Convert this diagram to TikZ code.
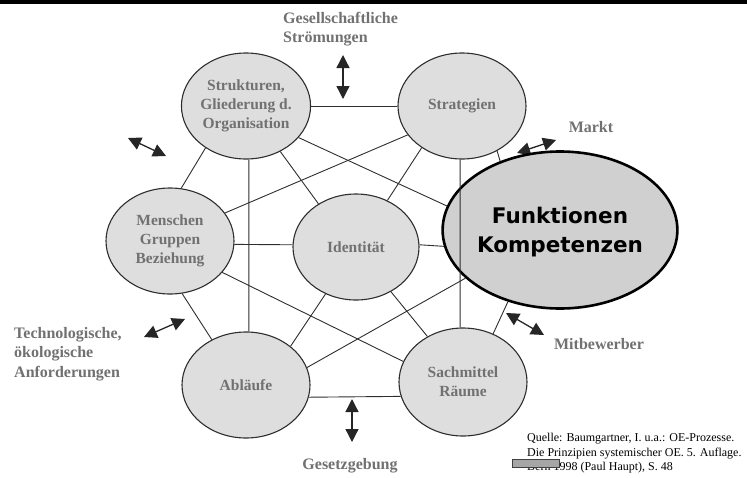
\documentclass[tikz,border=0pt]{standalone}
\usepackage{fontspec}
\setmainfont{Liberation Serif}
\newfontfamily\kompfont{DejaVu Sans}
\usetikzlibrary{shapes.geometric,arrows.meta}
\definecolor{kreisgrau}{HTML}{DEDEDE}
\definecolor{kerngrau}{HTML}{D0D0D0}
\definecolor{schriftgrau}{HTML}{717171}
\definecolor{liniengrau}{HTML}{2E2E2E}

\begin{document}
\begin{tikzpicture}[x=1pt, y=-1pt,
  feld/.style={ellipse, draw=liniengrau, fill=kreisgrau, line width=1.1pt, inner sep=0pt,
    text=schriftgrau, align=center, font=\fontsize{15.5}{19}\selectfont\bfseries},
  kern/.style={ellipse, draw=black, fill=kerngrau, line width=2.6pt, inner sep=0pt,
    text depth=0pt, align=center, font=\kompfont\fontsize{21.5}{29}\selectfont\bfseries},
  umwelt/.style={text=schriftgrau, align=left, inner sep=0pt,
    font=\fontsize{16}{19.5}\selectfont\bfseries},
  quelle/.style={align=left, inner sep=0pt, font=\fontsize{12}{14.5}\selectfont},
  verbindung/.style={draw=liniengrau, line width=0.9pt},
  pfeil/.style={{Triangle[length=13pt,width=13pt]}-{Triangle[length=13pt,width=13pt]},
    line width=1.3pt, draw=black!85}]
  \useasboundingbox (0,0) rectangle (747,477);
  \fill[black] (0,0) rectangle (747,4);   % dark band at the top edge

  % ends of the environment arrows
  \coordinate (ges1) at (343,55);   \coordinate (ges2) at (343,99);
  \coordinate (lo1) at (128,138);   \coordinate (lo2) at (166,156);
  \coordinate (markt1) at (517,153); \coordinate (markt2) at (556,140);
  \coordinate (lu1) at (144,337);   \coordinate (lu2) at (185,319);
  \coordinate (mitb1) at (506,313); \coordinate (mitb2) at (544,335);
  \coordinate (gesetz1) at (352,399); \coordinate (gesetz2) at (352,442);
  \draw[pfeil] (ges1) -- (ges2);
  \draw[pfeil] (lo1) -- (lo2);
  \draw[pfeil] (markt1) -- (markt2);
  \draw[pfeil] (lu1) -- (lu2);
  \draw[pfeil] (mitb1) -- (mitb2);
  \draw[pfeil] (gesetz1) -- (gesetz2);

  % the seven fields
  \node[feld, minimum width=126pt, minimum height=106pt] (struktur) at (246,106)
    {Strukturen,\\Gliederung d.\\Organisation};
  \node[feld, minimum width=128pt, minimum height=106pt] (strategie) at (462,106) {Strategien};
  \node[feld, minimum width=128pt, minimum height=106pt] (menschen) at (170,241)
    {Menschen\\Gruppen\\Beziehung};
  \node[feld, minimum width=126pt, minimum height=106pt] (identitaet) at (356,247) {Identität};
  \node[feld, minimum width=128pt, minimum height=106pt] (ablauf) at (246,385) {Abläufe};
  \node[feld, minimum width=128pt, minimum height=108pt] (sachmittel) at (463,382)
    {Sachmittel\\Räume};
  \node[kern, minimum width=206pt, minimum height=157pt] (funktion) at (560,230)
    {Funktionen\\Kompetenzen};

  % links between the fields
  \draw[verbindung] (struktur.0) -- (strategie.180);
  \draw[verbindung] (struktur.226) -- (menschen.78);
  \draw[verbindung] (struktur.-87) -- (ablauf.87);
  \draw[verbindung] (struktur.-53) -- (identitaet.131);
  \draw[verbindung] (struktur.-31.6) -- (funktion.168.4);
  \draw[verbindung] (strategie.208) -- (menschen.27);
  \draw[verbindung] (strategie.226) -- (identitaet.56.6);
  \draw[verbindung] (strategie.-92) -- (sachmittel.93);
  \draw[verbindung] (strategie.-52.7) -- (funktion.131);
  \draw[verbindung] (menschen.-3.6) -- (identitaet.178);
  \draw[verbindung] (menschen.-77.5) -- (ablauf.127);
  \draw[verbindung] (menschen.-31) -- (sachmittel.161.8);
  \draw[verbindung] (identitaet.2.7) -- (funktion.188);
  \draw[verbindung] (identitaet.237) -- (ablauf.41);
  \draw[verbindung] (identitaet.-52.7) -- (sachmittel.128.7);
  \draw[verbindung] (ablauf.16.2) -- (funktion.207);
  \draw[verbindung] (ablauf.-11) -- (sachmittel.193.4);
  \draw[verbindung] (sachmittel.58.5) -- (funktion.234.5);

  % environment labels
  \node[umwelt, anchor=north west] (gesell) at (283,12) {Gesellschaftliche\\Strömungen};
  \node[umwelt] (markt) at (591,127) {Markt};
  \node[umwelt, anchor=north west] (technik) at (14,327)
    {Technologische,\\ökologische\\Anforderungen};
  \node[umwelt] (mitbewerb) at (599,344) {Mitbewerber};
  \node[umwelt, anchor=base] (gesetz) at (350,469) {Gesetzgebung};

  % source note, partly covered
  \node[quelle, anchor=north west] (quelltext) at (527,433)
    {Quelle: Baumgartner, I. u.a.: OE-Prozesse.\\Die Prinzipien systemischer OE. 5. Auflage.\\Bern 1998 (Paul Haupt), S. 48};
  \filldraw[fill=black!35, draw=black!75, line width=0.6pt] (512,459) rectangle (559,467);
\end{tikzpicture}
\end{document}
